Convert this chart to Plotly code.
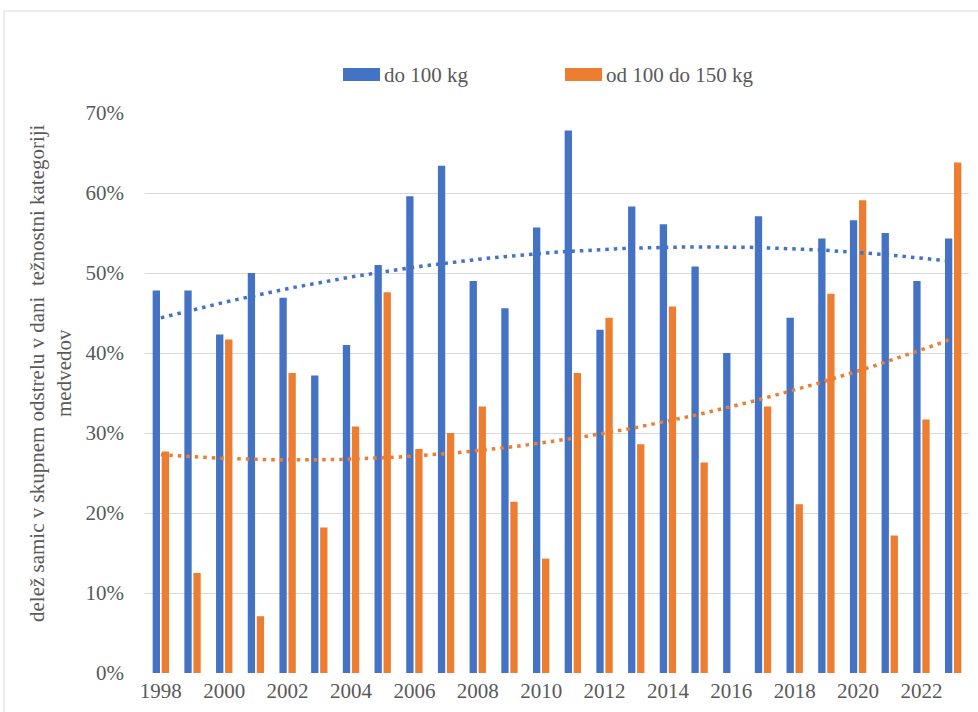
import numpy as np
import plotly.graph_objects as go

# Data: share of females in total cull per weight category
years = list(range(1998, 2024))
series_names = ["do 100 kg", "od 100 do 150 kg"]
do_100 = [0.478, 0.478, 0.423, 0.500, 0.469, 0.372, 0.410, 0.510, 0.596, 0.634,
          0.490, 0.456, 0.557, 0.678, 0.429, 0.583, 0.561, 0.508, 0.400, 0.571,
          0.444, 0.543, 0.566, 0.550, 0.490, 0.543]
od_100_150 = [0.277, 0.125, 0.417, 0.071, 0.375, 0.182, 0.308, 0.476, 0.280, 0.300,
              0.333, 0.214, 0.143, 0.375, 0.444, 0.286, 0.458, 0.263, 0.0, 0.333,
              0.211, 0.474, 0.591, 0.172, 0.317, 0.638]
y_ticks = [0, 0.1, 0.2, 0.3, 0.4, 0.5, 0.6, 0.7]
x_ticks = list(range(1998, 2023, 2))
y_title = "delež samic v skupnem odstrelu v dani  težnostni kategoriji<br>medvedov"

BLUE = "#4472C4"
ORANGE = "#ED7D31"
TEXT = "#595959"
FONT = "'Liberation Serif', 'Times New Roman', 'DejaVu Serif', serif"

fig = go.Figure()
for name, vals, col in [(series_names[0], do_100, BLUE), (series_names[1], od_100_150, ORANGE)]:
    fig.add_trace(go.Bar(x=years, y=vals, name=name, marker_color=col,
                         marker_line_width=0, showlegend=False))

# Second-order polynomial trendlines
yr = np.array(years, dtype=float)
xs = np.linspace(yr[0], yr[-1], 200)
for vals, col in [(do_100, BLUE), (od_100_150, ORANGE)]:
    c = np.polyfit(yr - yr.mean(), np.array(vals), 2)
    fig.add_trace(go.Scatter(x=xs, y=np.polyval(c, xs - yr.mean()), mode="lines",
                             line=dict(color=col, width=3.5, dash="3.5px,5px"),
                             showlegend=False, hoverinfo="skip"))

L, R, T, B = 145, 9, 113, 39
W, H = 978, 712
pw, ph = W - L - R, H - T - B
px = lambda v: (v - L) / pw
py = lambda v: (H - B - v) / ph

shapes = [
    # chart-area frame (top and left edges)
    dict(type="line", xref="paper", yref="paper", x0=px(4), x1=px(990), y0=py(11), y1=py(11),
         line=dict(color="#d9d9d9", width=1)),
    dict(type="line", xref="paper", yref="paper", x0=px(4), x1=px(4), y0=py(11), y1=py(720),
         line=dict(color="#d9d9d9", width=1)),
]
annotations = [
    dict(text=y_title, xref="paper", yref="paper", x=px(50), y=py(373), textangle=-90,
         showarrow=False, xanchor="center", yanchor="middle", align="center",
         font=dict(family=FONT, size=21, color=TEXT)),
]
# legend drawn as swatches + labels
for name, col, x0 in [(series_names[0], BLUE, 343), (series_names[1], ORANGE, 565)]:
    shapes.append(dict(type="rect", xref="paper", yref="paper", x0=px(x0), x1=px(x0 + 37),
                       y0=py(81), y1=py(68), fillcolor=col, line=dict(width=0)))
    annotations.append(dict(text=name, xref="paper", yref="paper", x=px(x0 + 39), y=py(75),
                            xanchor="left", yanchor="middle", showarrow=False,
                            font=dict(family=FONT, size=21, color=TEXT)))

fig.update_layout(
    width=W, height=H, margin=dict(l=L, r=R, t=T, b=B, autoexpand=False),
    paper_bgcolor="white", plot_bgcolor="white",
    barmode="group", bargap=0.43, bargroupgap=0.19,
    font=dict(family=FONT, size=21, color=TEXT),
    shapes=shapes, annotations=annotations,
    xaxis=dict(range=[1997.5, 2023.5], tickvals=x_ticks, ticks="", ticklabelstandoff=3,
               showgrid=False, zeroline=False, showline=False, automargin=False,
               tickfont=dict(family=FONT, size=21, color=TEXT)),
    yaxis=dict(range=[0, 0.7], tickvals=y_ticks, tickformat=".0%", showgrid=True,
               gridcolor="#d9d9d9", gridwidth=1, zeroline=False, ticks="",
               ticklabelstandoff=20, automargin=False,
               tickfont=dict(family=FONT, size=21, color=TEXT)),
)
fig.write_html("out.html")
